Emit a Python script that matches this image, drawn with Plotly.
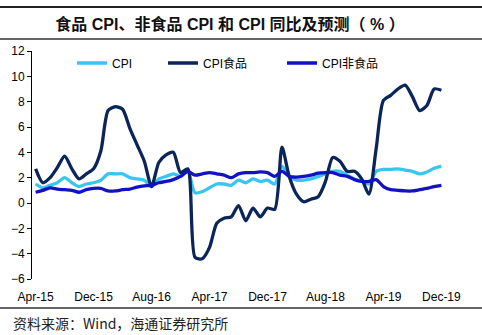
import plotly.graph_objects as go

# ---- data (Apr-15 .. Dec-19, monthly) ----
months = []
for yr in range(2015, 2020):
    for m in ["Jan", "Feb", "Mar", "Apr", "May", "Jun", "Jul", "Aug", "Sep", "Oct", "Nov", "Dec"]:
        months.append(f"{m}-{str(yr)[2:]}")
months = months[3:]  # start at Apr-15

cpi = [1.5, 1.2, 1.4, 1.6, 2.0, 1.6, 1.3, 1.5, 1.6,
       1.8, 2.3, 2.3, 2.3, 2.0, 1.9, 1.8, 1.3, 1.9, 2.1, 2.3, 2.1,
       2.5, 0.8, 0.9, 1.2, 1.5, 1.5, 1.4, 1.8, 1.6, 1.9, 1.7, 1.8,
       1.5, 2.9, 2.1, 1.8, 1.8, 1.9, 2.1, 2.3, 2.5, 2.5, 2.2, 1.9,
       1.7, 1.5, 2.5, 2.65, 2.65, 2.7, 2.6, 2.5, 2.3, 2.45, 2.75, 2.9]

cpi_food = [2.7, 1.6, 2.0, 2.8, 3.7, 2.7, 1.9, 2.3, 2.7,
            4.1, 7.3, 7.6, 7.4, 5.9, 4.6, 3.3, 1.3, 3.2, 3.8, 4.0, 2.4,
            2.7, -4.3, -4.4, -3.5, -1.6, -1.2, -1.1, -0.2, -1.4, -0.4, -1.1, -0.4,
            -0.5, 4.4, 2.1, 0.7, 0.1, 0.3, 0.5, 1.7, 3.6, 3.3, 2.5, 2.5,
            1.9, 0.7, 4.3, 8.1, 8.5, 9.0, 9.3, 8.4, 7.3, 7.7, 9.0, 8.9]

cpi_nonfood = [0.85, 1.0, 1.2, 1.1, 1.05, 1.0, 0.85, 1.05, 1.15,
               1.15, 0.95, 0.95, 1.05, 1.1, 1.25, 1.35, 1.4, 1.6, 1.7, 1.85, 2.1,
               2.5, 2.2, 2.3, 2.4, 2.3, 2.2, 2.0, 2.3, 2.4, 2.4, 2.45, 2.4,
               2.1, 2.5, 2.1, 2.05, 2.1, 2.2, 2.35, 2.4, 2.4, 2.2, 2.1, 1.85,
               1.7, 1.7, 1.85, 1.3, 1.05, 1.0, 0.95, 0.95, 1.05, 1.15, 1.3, 1.4]

series_names = ["CPI", "CPI食品", "CPI非食品"]
series_colors = ["#38C5F0", "#0B2559", "#1212C4"]
tick_labels = ["Apr-15", "Dec-15", "Aug-16", "Apr-17", "Dec-17", "Aug-18", "Apr-19", "Dec-19"]

title_text = "食品 CPI、非食品 CPI 和 CPI 同比及预测（ % ）"
source_text = "资料来源：Wind，海通证券研究所"

# ---- layout geometry ----
W, H = 482, 335
ML, MR, MT, MB = 32, 37, 51, 56
PW, PH = W - ML - MR, H - MT - MB

def px_x(p):
    return (p - ML) / PW

def px_y(p):
    return (H - MB - p) / PH

x = list(range(len(months)))
tickvals = [months.index(t) for t in tick_labels]

FONT = "Liberation Sans, Arial, Noto Sans CJK SC, sans-serif"

fig = go.Figure()
legends = ["legend", "legend2", "legend3"]
for name, ys, col, lg in zip(series_names, [cpi, cpi_food, cpi_nonfood], series_colors, legends):
    fig.add_trace(go.Scatter(
        x=x, y=ys, name=name, mode="lines",
        line=dict(color=col, width=3.3, shape="spline", smoothing=0.7),
        legend=lg, showlegend=True,
    ))

leg_common = dict(orientation="h", yanchor="middle", xanchor="left",
                  bgcolor="rgba(0,0,0,0)", font=dict(family=FONT, size=12, color="#000"),
                  itemwidth=30, tracegroupgap=0)

fig.update_layout(
    width=W, height=H,
    margin=dict(l=ML, r=MR, t=MT, b=MB, pad=0),
    paper_bgcolor="white", plot_bgcolor="white",
    title=dict(text=f"<b>{title_text}</b>", x=230 / W, xanchor="center",
               y=1 - 24 / H, yanchor="middle",
               font=dict(family="Liberation Sans, Noto Sans CJK SC, sans-serif", size=16, color="#111")),
    legend=dict(x=px_x(72), y=px_y(63), **leg_common),
    legend2=dict(x=px_x(163), y=px_y(63), **leg_common),
    legend3=dict(x=px_x(282), y=px_y(63), **leg_common),
    xaxis=dict(range=[-0.5, len(months) - 0.5], tickvals=tickvals, ticktext=tick_labels,
               showline=False, showgrid=False, zeroline=False,
               ticks="outside", ticklen=7, tickcolor="rgba(0,0,0,0)",
               tickfont=dict(family=FONT, size=12, color="#000")),
    xaxis2=dict(range=[-0.5, len(months) - 0.5], overlaying="x", anchor="free",
                position=(0 - (-6)) / (12 - (-6)),
                tickvals=[v - 0.5 for v in tickvals[1:]], showticklabels=False,
                showline=True, linecolor="#A0A0A0", linewidth=2,
                ticks="outside", ticklen=4, tickcolor="#404040", tickwidth=1,
                showgrid=False, zeroline=False),
    yaxis=dict(range=[-6, 12], dtick=2, showgrid=False, zeroline=False,
               showline=True, linecolor="#000", linewidth=1,
               ticks="outside", ticklen=4, tickcolor="#000",
               tickfont=dict(family=FONT, size=12, color="#000")),
)

# decorative rules (frame lines of the report)
x0, x1 = -ML / PW, 1 + MR / PW
for py, w, c in [(7, 2, "#222"), (39, 1.5, "#333"), (308, 1.5, "#333")]:
    fig.add_shape(type="line", xref="paper", yref="paper", x0=x0, x1=x1,
                  y0=px_y(py), y1=px_y(py), line=dict(color=c, width=w))

fig.add_annotation(text=source_text, xref="paper", yref="paper",
                   x=px_x(11), y=px_y(323), xanchor="left", yanchor="middle",
                   showarrow=False,
                   font=dict(family="Noto Sans CJK SC, sans-serif", size=14, color="#222"))

fig.write_html("out.html")
